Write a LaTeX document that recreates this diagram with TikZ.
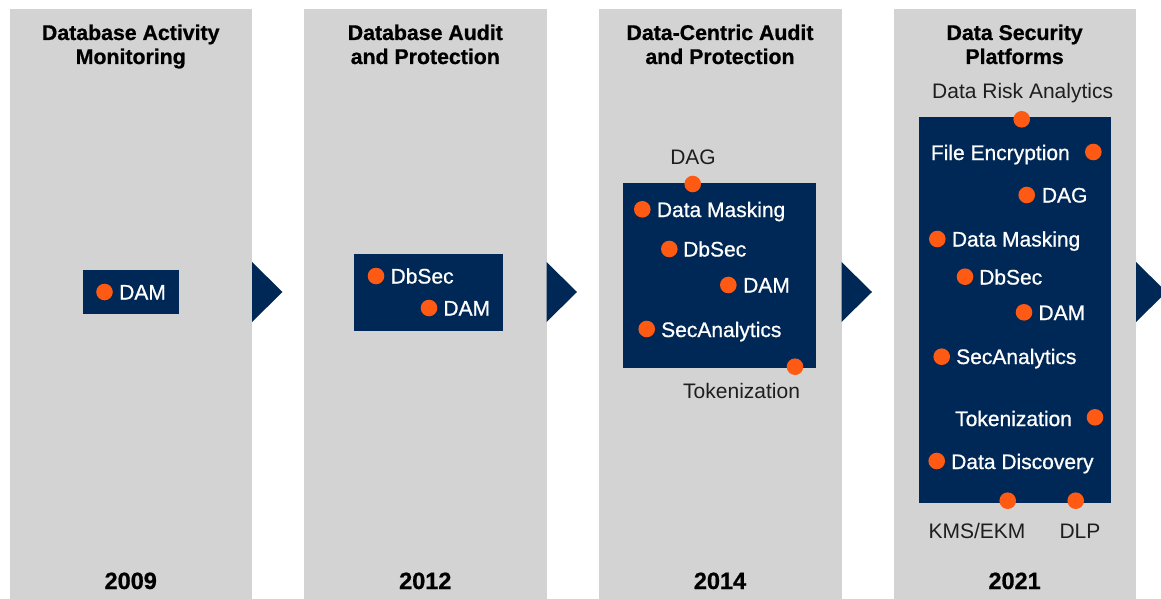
\documentclass[tikz,border=0pt]{standalone}
\usepackage{fontspec}
\setmainfont{Liberation Sans}
\newfontfamily\whitefont[FakeBold=0.8]{Liberation Sans}
\newfontfamily\heavyfont[FakeBold=0.8]{Liberation Sans Bold}
\definecolor{navy}{HTML}{002856}
\definecolor{dotor}{HTML}{FF5A14}
\definecolor{colgray}{HTML}{D3D3D3}
\definecolor{labgray}{HTML}{1E1E1E}
\begin{document}
\begin{tikzpicture}[x=1pt,y=-1pt,
  colbg/.style={fill=colgray},
  navybox/.style={fill=navy},
  arr/.style={fill=navy},
  dotn/.style={circle, fill=dotor, minimum size=16.6pt, inner sep=0pt, draw=none},
  ttl/.style={font=\heavyfont\fontsize{21.3}{25}\selectfont, anchor=base, inner sep=0pt},
  yr/.style={font=\heavyfont\fontsize{23.5}{26}\selectfont, anchor=base, inner sep=0pt},
  wlab/.style={font=\whitefont\fontsize{21}{25}\selectfont, text=white, anchor=base west, inner sep=0pt},
  blab/.style={font=\fontsize{21}{25}\selectfont, text=labgray, anchor=base west, inner sep=0pt},
]
\fill[white] (0,0) rectangle (1161,599);
\useasboundingbox (0,0) rectangle (1161,599);
\clip (0,0) rectangle (1161,599);

% columns
\fill[colbg] (9.5,9.3) rectangle (252,600);
\fill[colbg] (304,9.3) rectangle (546.5,600);
\fill[colbg] (599,9.3) rectangle (841.5,600);
\fill[colbg] (893.5,9.3) rectangle (1136,600);

% arrows
\fill[arr] (252,262) -- (282.5,292) -- (252,322) -- cycle;
\fill[arr] (546.5,262) -- (577,292) -- (546.5,322) -- cycle;
\fill[arr] (841.5,262) -- (872,292) -- (841.5,322) -- cycle;
\fill[arr] (1136,262) -- (1166.5,292) -- (1136,322) -- cycle;

% titles
\node[ttl] (t1a) at (130.75,40) {Database Activity};
\node[ttl] (t1b) at (130.75,64) {Monitoring};
\node[ttl] (t2a) at (425.3,40) {Database Audit};
\node[ttl] (t2b) at (425.3,64) {and Protection};
\node[ttl] (t3a) at (720,40) {Data-Centric Audit};
\node[ttl] (t3b) at (720,64) {and Protection};
\node[ttl] (t4a) at (1014.6,40) {Data Security};
\node[ttl] (t4b) at (1014.6,64) {Platforms};

% years
\node[yr] (y1) at (130.75,589) {2009};
\node[yr] (y2) at (425.3,589) {2012};
\node[yr] (y3) at (720,589) {2014};
\node[yr] (y4) at (1014.6,589) {2021};

% boxes
\fill[navybox] (83,270) rectangle (179,314);
\fill[navybox] (354,254) rectangle (503,331);
\fill[navybox] (623.3,183.3) rectangle (816,368.3);
\fill[navybox] (919,117.3) rectangle (1111,503.3);

% column 1
\node[dotn] (d1dam) at (104.5,292) {};
\node[wlab] (l1dam) at (119,299.5) {DAM};

% column 2
\node[dotn] (d2dbsec) at (376,276) {};
\node[wlab] (l2dbsec) at (390.4,283.5) {DbSec};
\node[dotn] (d2dam) at (429,308) {};
\node[wlab] (l2dam) at (443.2,315.5) {DAM};

% column 3
\node[dotn] (d3dag) at (692.7,184) {};
\node[blab, anchor=base] (l3dag) at (693,164) {DAG};
\node[dotn] (d3mask) at (642.3,209.3) {};
\node[wlab] (l3mask) at (656.7,217) {Data Masking};
\node[dotn] (d3dbsec) at (669.3,249) {};
\node[wlab] (l3dbsec) at (683,256.5) {DbSec};
\node[dotn] (d3dam) at (728.3,285) {};
\node[wlab] (l3dam) at (743,292.5) {DAM};
\node[dotn] (d3sec) at (646.7,329) {};
\node[wlab] (l3sec) at (661,337) {SecAnalytics};
\node[dotn] (d3tok) at (795,366.7) {};
\node[blab] (l3tok) at (683,398) {Tokenization};

% column 4
\node[blab] (l4risk) at (932,99) {Data Risk Analytics};
\node[dotn] (d4risk) at (1021.7,119.3) {};
\node[wlab] (l4file) at (930.7,160) {File Encryption};
\node[dotn] (d4file) at (1093.3,152) {};
\node[dotn] (d4dag) at (1026.7,195) {};
\node[wlab] (l4dag) at (1041.7,202.5) {DAG};
\node[dotn] (d4mask) at (937.3,239) {};
\node[wlab] (l4mask) at (951.7,246.5) {Data Masking};
\node[dotn] (d4dbsec) at (965,276.7) {};
\node[wlab] (l4dbsec) at (979,284.5) {DbSec};
\node[dotn] (d4dam) at (1024,312.3) {};
\node[wlab] (l4dam) at (1038.3,320) {DAM};
\node[dotn] (d4sec) at (941.7,356.7) {};
\node[wlab] (l4sec) at (956,364) {SecAnalytics};
\node[wlab] (l4tok) at (955,426) {Tokenization};
\node[dotn] (d4tok) at (1095,417.3) {};
\node[dotn] (d4disc) at (936.7,461) {};
\node[wlab] (l4disc) at (951,469) {Data Discovery};
\node[dotn] (d4kms) at (1007.7,500.7) {};
\node[blab] (l4kms) at (928.3,538) {KMS/EKM};
\node[dotn] (d4dlp) at (1075.7,500.7) {};
\node[blab] (l4dlp) at (1059.3,538) {DLP};
\end{tikzpicture}
\end{document}
